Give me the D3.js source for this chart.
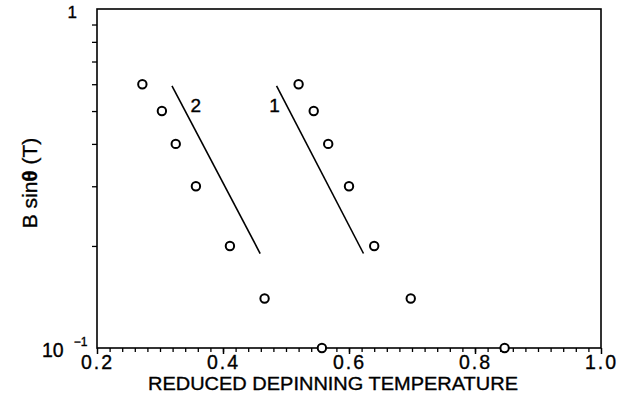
<!DOCTYPE html>
<html>
<head>
<meta charset="utf-8">
<script src="https://cdn.jsdelivr.net/npm/d3@7"></script>
<style>
  html, body { margin: 0; padding: 0; background: #fff; }
  svg { display: block; }
  text { font-family: "Liberation Sans", Arial, Helvetica, sans-serif; fill: #000; stroke: #000; stroke-width: 0.35px; }
</style>
</head>
<body>
<svg id="chart" width="633" height="400"></svg>
<script>
// Measured field B sinθ (T) against reduced depinning temperature, two samples
const fieldLevels = [0.6, 0.5, 0.4, 0.3, 0.2, 0.14, 0.1];
const tempSample2 = [0.272, 0.303, 0.325, 0.357, 0.411, 0.466, 0.557];
const tempSample1 = [0.520, 0.544, 0.567, 0.600, 0.640, 0.698, 0.847];

// Straight-line fits drawn through each set (labelled 1 and 2)
const fitNames = ["1", "2"];
const fitTemp = [[0.485, 0.623], [0.319, 0.459]];
const fitField = [[0.593, 0.19], [0.593, 0.19]];
const fitLabelTemp = [0.482, 0.357];
const fitLabelField = [0.52, 0.52];

// Axis ticks
const xMajor = [0.2, 0.4, 0.6, 0.8, 1.0];
const xMinor = d3.range(0.22, 0.995, 0.02);
const yMinor = [0.2, 0.3, 0.4, 0.5, 0.6, 0.7, 0.8, 0.9];

const svg = d3.select("#chart");
const plotLeft = 97, plotRight = 601, plotTop = 9, plotBottom = 348;

const x = d3.scaleLinear().domain([0.2, 1.0]).range([plotLeft, plotRight]);
const y = d3.scaleLog().domain([0.1, 1]).range([plotBottom, plotTop]);

// Frame
svg.append("rect")
  .attr("x", plotLeft).attr("y", plotTop)
  .attr("width", plotRight - plotLeft).attr("height", plotBottom - plotTop)
  .attr("fill", "none").attr("stroke", "#000").attr("stroke-width", 1.6);

// Bottom axis
const xAxisMajor = d3.axisBottom(x).tickValues(xMajor).tickSize(6).tickFormat(d3.format(".1f"));
const gx = svg.append("g").attr("transform", `translate(0,${plotBottom})`).call(xAxisMajor);
gx.select(".domain").remove();
gx.selectAll(".tick line").attr("stroke", "#000").attr("stroke-width", 1.5);
gx.selectAll(".tick text")
  .attr("dy", null).attr("y", 20.5)
  .attr("fill", "#000")
  .style("font-size", "19.5px").style("letter-spacing", "2px");

const gxm = svg.append("g").attr("transform", `translate(0,${plotBottom})`)
  .call(d3.axisBottom(x).tickValues(xMinor).tickSize(4).tickFormat(""));
gxm.select(".domain").remove();
gxm.selectAll(".tick line").attr("stroke", "#000").attr("stroke-width", 1.3);

// Left axis (log), minor ticks only; decade labels drawn separately
const gy = svg.append("g").attr("transform", `translate(${plotLeft},0)`)
  .call(d3.axisLeft(y).tickValues(yMinor).tickSize(5).tickFormat(""));
gy.select(".domain").remove();
gy.selectAll(".tick line").attr("stroke", "#000").attr("stroke-width", 1.3);

svg.append("text").attr("x", 77).attr("y", y(1) + 9)
  .attr("text-anchor", "end").style("font-size", "17px").text("1");

const dec = svg.append("text").attr("x", 42).attr("y", y(0.1) + 9).style("font-size", "19.5px");
dec.append("tspan").text("10");
dec.append("tspan").attr("dx", 10).attr("dy", -11).style("font-size", "12px").text("\u22121");

// Axis titles
svg.append("text")
  .attr("x", (plotLeft + plotRight) / 2 - 16).attr("y", 390)
  .attr("text-anchor", "middle")
  .attr("textLength", 370).attr("lengthAdjust", "spacingAndGlyphs")
  .style("font-size", "19px")
  .text("REDUCED  DEPINNING  TEMPERATURE");

const yTitle = svg.append("text")
  .attr("transform", "translate(37,183) rotate(-90)")
  .attr("text-anchor", "middle")
  .style("font-size", "21px");
yTitle.append("tspan").text("B sin");
yTitle.append("tspan").style("font-weight", "bold").text("\u03b8");
yTitle.append("tspan").text(" (T)");

// Fit lines and their labels
const line = d3.line().x(d => x(d[0])).y(d => y(d[1]));
fitNames.forEach((name, i) => {
  svg.append("path")
    .datum(d3.zip(fitTemp[i], fitField[i]))
    .attr("d", line)
    .attr("fill", "none").attr("stroke", "#000").attr("stroke-width", 1.6);
  svg.append("text")
    .attr("x", x(fitLabelTemp[i])).attr("y", y(fitLabelField[i]))
    .attr("text-anchor", "middle").attr("dy", "0.35em")
    .style("font-size", "19px")
    .text(name);
});

// Data points
[tempSample2, tempSample1].forEach(temps => {
  svg.append("g").selectAll("circle")
    .data(d3.zip(temps, fieldLevels))
    .join("circle")
    .attr("cx", d => x(d[0])).attr("cy", d => y(d[1]))
    .attr("r", 4.2)
    .attr("fill", "#fff").attr("stroke", "#000").attr("stroke-width", 2);
});
</script>
</body>
</html>
